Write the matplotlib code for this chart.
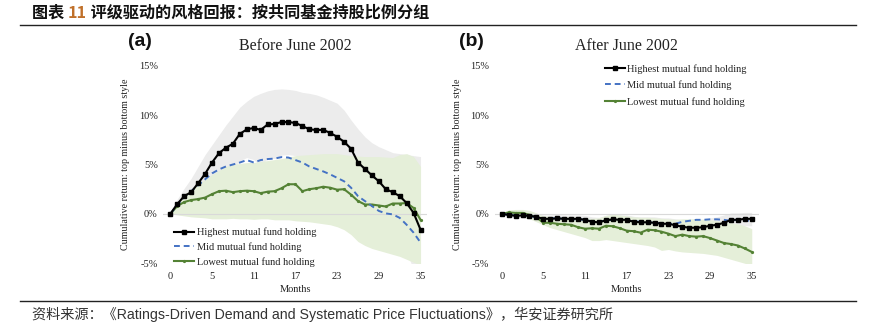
import matplotlib
matplotlib.use("Agg")
import matplotlib.pyplot as plt
from matplotlib.lines import Line2D

# months index 0..36, tick labels as printed on the source chart
months = list(range(37))
tick_pos = [0, 6, 12, 18, 24, 30, 36]
tick_lab = ["0", "5", "11", "17", "23", "29", "35"]
y_ticks = [-5, 0, 5, 10, 15]

# (a) Before June 2002, cumulative return in %
hi_a = [0, 1.0, 1.8, 2.2, 3.1, 4.05, 5.2, 6.15, 6.7, 7.1, 8.1, 8.55, 8.7, 8.5, 9.05, 9.1, 9.3, 9.3, 9.2,
        8.9, 8.55, 8.5, 8.5, 8.2, 7.8, 7.3, 6.6, 5.2, 4.55, 3.9, 3.3, 2.5, 2.2, 1.8, 1.1, 0.1, -1.6]
mid_a = [0, 0.9, 1.7, 2.3, 2.9, 3.5, 4.1, 4.5, 4.8, 5.0, 5.2, 5.45, 5.2, 5.45, 5.55, 5.6, 5.75, 5.7, 5.45,
         5.2, 4.8, 4.55, 4.3, 4.0, 3.65, 3.3, 2.65, 1.8, 1.3, 0.8, 0.3, 0.05, -0.05, -0.4, -1.1, -1.9, -2.9]
low_a = [0, 0.8, 1.2, 1.4, 1.5, 1.65, 2.0, 2.3, 2.35, 2.2, 2.3, 2.35, 2.3, 2.1, 2.25, 2.3, 2.6, 3.0, 3.0,
         2.3, 2.5, 2.6, 2.75, 2.65, 2.45, 2.5, 1.95, 1.3, 0.95, 0.95, 0.85, 0.75, 1.05, 1.05, 1.1, 0.6, -0.6]
hi_up_a = [0, 1.5, 2.6, 3.6, 4.8, 6.0, 7.0, 8.0, 9.0, 9.9, 10.8, 11.4, 11.9, 12.2, 12.45, 12.6, 12.65, 12.6,
           12.5, 12.3, 12.2, 12.05, 11.8, 11.5, 11.2, 10.5, 9.5, 8.6, 7.8, 7.2, 6.8, 6.5, 6.2, 6.1, 6.0, 5.9, 5.8]
hi_lo_a = [0, 0.5, 1.0, 0.8, 1.4, 2.1, 3.4, 4.3, 4.4, 4.3, 5.4, 5.7, 5.5, 4.8, 5.65, 5.6, 5.95, 6.0, 5.9,
           5.5, 4.9, 4.9, 5.2, 4.9, 4.4, 4.1, 3.7, 1.8, 1.3, 0.6, -0.2, -1.5, -1.8, -2.5, -3.8, -5.7, -9.0]
low_up_a = [0, 1.0, 2.0, 2.5, 3.0, 3.5, 4.0, 4.4, 4.8, 5.0, 5.1, 5.2, 5.2, 5.3, 5.4, 5.5, 5.6, 5.75, 5.9,
            5.95, 6.0, 6.05, 6.1, 6.1, 6.1, 6.0, 5.9, 5.85, 5.8, 5.8, 5.8, 5.75, 5.7, 6.0, 6.1, 5.8, 4.8]
low_lo_a = [0, -0.1, -0.2, -0.3, -0.35, -0.4, -0.5, -0.5, -0.5, -0.45, -0.5, -0.5, -0.55, -0.5, -0.5, -0.6,
            -0.6, -0.6, -0.7, -0.75, -0.8, -0.9, -1.0, -1.1, -1.3, -1.6, -2.1, -2.8, -3.2, -3.5, -3.7, -3.9,
            -4.1, -4.3, -4.6, -4.9, -5.2]

# (b) After June 2002
hi_b = [0, -0.1, -0.2, -0.15, -0.2, -0.3, -0.5, -0.5, -0.45, -0.5, -0.5, -0.5, -0.6, -0.8, -0.85, -0.65, -0.55,
        -0.6, -0.6, -0.8, -0.85, -0.85, -0.9, -1.0, -1.0, -1.15, -1.3, -1.4, -1.4, -1.35, -1.2, -1.1, -0.9,
        -0.6, -0.6, -0.5, -0.5]
mid_b = [0, -0.1, -0.15, -0.15, -0.2, -0.35, -0.5, -0.45, -0.45, -0.5, -0.55, -0.55, -0.6, -0.75, -0.8, -0.65,
         -0.6, -0.6, -0.65, -0.75, -0.8, -0.85, -0.9, -0.95, -1.0, -1.0, -0.8, -0.7, -0.6, -0.6, -0.55, -0.55,
         -0.6, -0.7, -0.55, -0.6, -0.8]
low_b = [0, 0.15, 0.1, 0.1, -0.1, -0.35, -0.9, -0.9, -1.0, -1.05, -1.1, -1.35, -1.5, -1.45, -1.5, -1.2, -1.25,
         -1.45, -1.7, -1.75, -1.9, -1.6, -1.65, -1.8, -2.0, -2.25, -2.1, -2.25, -2.3, -2.25, -2.45, -2.7, -2.95,
         -3.05, -3.2, -3.5, -3.85]
hi_up_b = [0, 0.1, 0.05, 0.1, 0.1, 0.05, -0.1, -0.1, -0.05, -0.1, -0.1, -0.1, -0.15, -0.3, -0.35, -0.15, -0.05,
           -0.1, -0.1, -0.25, -0.3, -0.3, -0.3, -0.4, -0.4, -0.5, -0.6, -0.65, -0.6, -0.55, -0.4, -0.3, -0.1,
           0.1, 0.1, 0.15, 0.15]
hi_lo_b = [0, -0.3, -0.45, -0.4, -0.5, -0.65, -0.9, -0.9, -0.85, -0.9, -0.9, -0.9, -1.05, -1.3, -1.35, -1.15,
           -1.05, -1.1, -1.1, -1.35, -1.4, -1.4, -1.5, -1.6, -1.6, -1.8, -2.0, -2.15, -2.2, -2.15, -2.0, -1.9,
           -1.7, -1.3, -1.3, -1.2, -1.2]
low_up_b = [0, 0.4, 0.45, 0.45, 0.35, 0.1, -0.2, -0.25, -0.3, -0.3, -0.3, -0.35, -0.4, -0.45, -0.4, -0.15, -0.05,
            -0.1, -0.2, -0.3, -0.35, -0.35, -0.4, -0.45, -0.5, -0.55, -0.5, -0.5, -0.5, -0.55, -0.6, -0.7, -0.8,
            -0.9, -1.0, -1.2, -1.5]
low_lo_b = [0, -0.1, -0.2, -0.3, -0.5, -0.8, -1.1, -1.4, -1.6, -1.8, -2.0, -2.2, -2.4, -2.7, -2.7, -2.6, -2.7,
            -2.8, -2.9, -3.0, -3.1, -3.2, -3.35, -3.7, -3.6, -3.75, -3.85, -3.9, -3.95, -4.0, -4.1, -4.2, -4.4,
            -4.6, -4.8, -5.0, -5.2]

labels = ["Highest mutual fund holding", "Mid mutual fund holding", "Lowest mutual fund holding"]
C_HI, C_MID, C_LOW = "#000000", "#4472c4", "#548235"
C_GRAY, C_GREEN = "#ececec", "#e5efd9"
SERIF = "Liberation Serif"

fig = plt.figure(figsize=(8.76, 3.29), dpi=100)


def panel(ax, hi, mid, low, hi_up, hi_lo, low_up, low_lo, title, tag, legend_kw):
    ax.fill_between(months, hi_lo, hi_up, color=C_GRAY, lw=0, zorder=1)
    ax.fill_between(months, low_lo, low_up, color=C_GREEN, lw=0, zorder=2)
    ax.axhline(0, color="#d9d9d9", lw=0.8, zorder=3)
    ax.plot(months, hi, color=C_HI, lw=1.5, marker="s", ms=3.4, zorder=6)
    ax.plot(months, mid, color=C_MID, lw=1.4, ls=(0, (3, 2)), zorder=5)
    ax.plot(months, low, color=C_LOW, lw=1.5, marker="o", ms=1.3, zorder=4)
    ax.set_xlim(-1, 37)
    ax.set_ylim(-5, 15)
    ax.set_xticks(tick_pos, tick_lab)
    ax.set_yticks(y_ticks, [f"{v}%" for v in y_ticks])
    ax.tick_params(length=0, labelsize=7.5, pad=6)
    ax.tick_params(axis="y", pad=4)
    for t in ax.get_xticklabels() + ax.get_yticklabels():
        t.set_fontfamily(SERIF)
        t.set_color("#222222")
    for s in ax.spines.values():
        s.set_visible(False)
    ax.set_xlabel("Months", fontsize=7.5, family=SERIF, labelpad=3, color="#222222")
    ax.set_ylabel("Cumulative return: top minus bottom style", fontsize=7.2, family=SERIF,
                  labelpad=6, color="#222222")
    ax.text(0.5, 1.1, title, transform=ax.transAxes, ha="center", va="center",
            fontsize=11.5, family=SERIF, color="#222222")
    ax.text(-0.088, 1.125, tag, transform=ax.transAxes, ha="center", va="center",
            fontsize=14, fontweight="bold", family="Liberation Sans", color="#111111")
    handles = [Line2D([], [], color=C_HI, lw=1.5, marker="s", ms=3.4),
               Line2D([], [], color=C_MID, lw=1.4, ls=(0, (3, 2))),
               Line2D([], [], color=C_LOW, lw=1.5, marker="o", ms=1.3)]
    leg = ax.legend(handles, labels, frameon=False, handlelength=2.0, handletextpad=0.2,
                    prop={"family": SERIF, "size": 7.5}, **legend_kw)
    leg.set_zorder(10)
    for t in leg.get_texts():
        t.set_color("#222222")


ax1 = fig.add_axes([0.1865, 0.1997, 0.3015, 0.6006])
ax2 = fig.add_axes([0.5648, 0.1997, 0.3013, 0.6006])
panel(ax1, hi_a, mid_a, low_a, hi_up_a, hi_lo_a, low_up_a, low_lo_a, "Before June 2002", "(a)",
      dict(loc="lower left", bbox_to_anchor=(0.023, -0.04), borderaxespad=0, labelspacing=0.5))
panel(ax2, hi_b, mid_b, low_b, hi_up_b, hi_lo_b, low_up_b, low_lo_b, "After June 2002", "(b)",
      dict(loc="upper left", bbox_to_anchor=(0.4, 1.03), borderaxespad=0, labelspacing=0.65))

# header: title with orange figure number, and rule lines
cjk = ["Noto Sans CJK SC", "DejaVu Sans"]
fig.canvas.draw()
r = fig.canvas.get_renderer()
x = 32 / 876
ty = 1 - 13 / 329
for part, col in [("图表 ", "#111111"), ("11", "#c0702a"), (" 评级驱动的风格回报：按共同基金持股比例分组", "#111111")]:
    t = fig.text(x, ty, part, fontsize=11.6, fontweight="bold", family=cjk, color=col, va="center")
    bb = t.get_window_extent(r)
    x += bb.width / fig.bbox.width
fig.add_artist(Line2D([20 / 876, 856 / 876], [1 - 25 / 329] * 2, color="#222222", lw=1.0))
fig.add_artist(Line2D([20 / 876, 856 / 876], [1 - 301 / 329] * 2, color="#222222", lw=1.0))
fig.text(32 / 876, 1 - 314 / 329,
         "资料来源：《Ratings-Driven Demand and Systematic Price Fluctuations》，华安证券研究所",
         fontsize=10.2, family=["Liberation Sans", "Noto Sans CJK SC"], color="#333333", va="center")

fig.savefig("out.png", dpi=100)
